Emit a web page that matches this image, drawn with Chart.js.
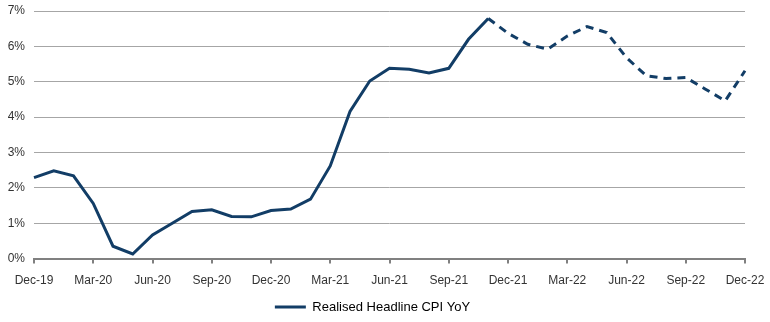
<!DOCTYPE html>
<html>
<head>
<meta charset="utf-8">
<script src="https://cdn.jsdelivr.net/npm/chart.js@4/dist/chart.umd.min.js"></script>
<style>
  html, body { margin: 0; padding: 0; background: #fff; }
  #wrap { width: 770px; height: 322px; position: relative; }
</style>
</head>
<body>
<div id="wrap"><canvas id="cpiChart"></canvas></div>
<script>
// Monthly categories, Dec-19 .. Dec-22
const months = [
  'Dec-19', 'Jan-20', 'Feb-20', 'Mar-20', 'Apr-20', 'May-20', 'Jun-20', 'Jul-20', 'Aug-20',
  'Sep-20', 'Oct-20', 'Nov-20', 'Dec-20', 'Jan-21', 'Feb-21', 'Mar-21', 'Apr-21', 'May-21',
  'Jun-21', 'Jul-21', 'Aug-21', 'Sep-21', 'Oct-21', 'Nov-21', 'Dec-21', 'Jan-22', 'Feb-22',
  'Mar-22', 'Apr-22', 'May-22', 'Jun-22', 'Jul-22', 'Aug-22', 'Sep-22', 'Oct-22', 'Nov-22',
  'Dec-22'
];

// Realised headline CPI YoY (%), forecast part drawn dashed
const cpiYoY = [
  2.29, 2.48, 2.34, 1.56, 0.35, 0.13, 0.67, 1.00, 1.33,
  1.38, 1.19, 1.18, 1.36, 1.40, 1.68, 2.62, 4.16, 5.02,
  5.38, 5.35, 5.25, 5.38, 6.20, 6.79, 6.37, 6.06, 5.92,
  6.29, 6.56, 6.39, 5.68, 5.17, 5.09, 5.12, 4.79, 4.46,
  5.31
];

// first index of the dashed (projected) part
const forecastStart = 23;

const yTicks = [0, 1, 2, 3, 4, 5, 6, 7];

const navy = '#123d66';
const textGrey = '#333333';
const font = { family: '"Liberation Sans", Arial, sans-serif', size: 12 };

new Chart(document.getElementById('cpiChart'), {
    type: 'line',
    data: {
        labels: months,
        datasets: [{
            label: 'Realised Headline CPI YoY',
            data: cpiYoY,
            borderColor: navy,
            backgroundColor: navy,
            borderWidth: 3,
            pointRadius: 0,
            pointHoverRadius: 0,
            tension: 0,
            segment: {
                borderDash: ctx => ctx.p0DataIndex >= forecastStart ? [8, 6] : undefined
            }
        }]
    },
    options: {
        responsive: true,
        maintainAspectRatio: false,
        animation: false,
        layout: { autoPadding: false, padding: { top: 11, right: 25, left: 0, bottom: -1.5 } },
        plugins: {
            tooltip: { enabled: false },
            legend: {
                position: 'bottom',
                labels: {
                    color: textGrey,
                    font: { family: font.family, size: 13 },
                    boxWidth: 31,
                    boxHeight: 3,
                    padding: 2.5,
                    generateLabels: chart => chart.data.datasets.map((ds, i) => ({
                        text: ds.label,
                        fillStyle: navy,
                        strokeStyle: navy,
                        lineWidth: 0,
                        datasetIndex: i
                    }))
                }
            }
        },
        scales: {
            x: {
                afterFit: scale => { scale.paddingLeft = 0; scale.paddingRight = 0; },
                ticks: {
                    color: textGrey,
                    font: font,
                    autoSkip: false,
                    maxRotation: 0,
                    padding: 10,
                    callback: (v, i) => i % 3 === 0 ? months[i] : null
                },
                grid: {
                    drawOnChartArea: false,
                    tickLength: 5,
                    color: '#808080',
                    lineWidth: 2
                },
                border: { color: '#808080', width: 2 }
            },
            y: {
                min: 0,
                max: 7,
                afterFit: scale => { scale.width = 34; scale.paddingTop = 0; scale.paddingBottom = 0; },
                afterBuildTicks: scale => { scale.ticks = yTicks.map(v => ({ value: v })); },
                ticks: {
                    color: textGrey,
                    font: font,
                    padding: 9,
                    callback: v => v + '%'
                },
                grid: { color: '#a6a6a6', lineWidth: 1, drawTicks: false },
                border: { display: false }
            }
        }
    }
});
</script>
</body>
</html>
